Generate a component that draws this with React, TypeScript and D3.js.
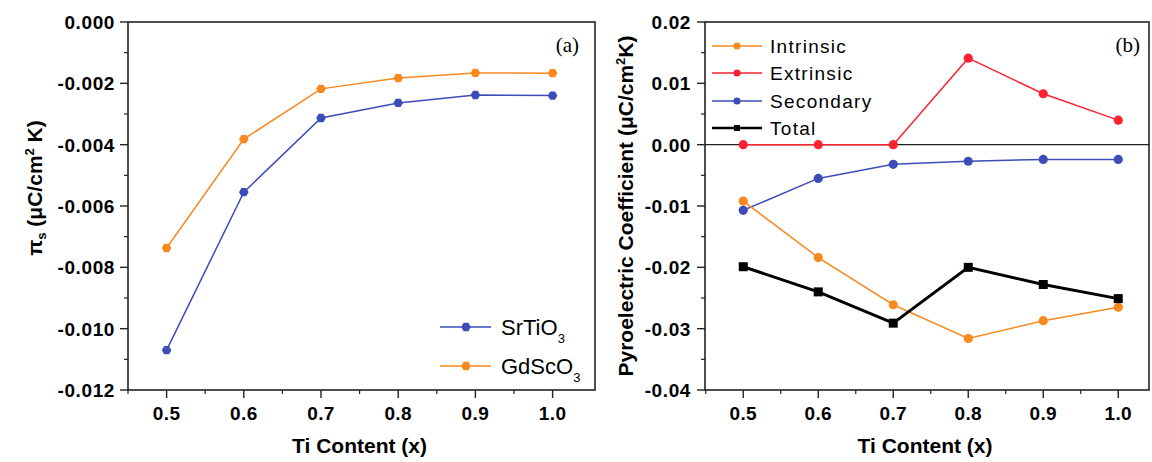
import React from "react";
import * as d3 from "d3";

const xValues = [0.5, 0.6, 0.7, 0.8, 0.9, 1.0];
const srTiO3 = [-0.0107, -0.00555, -0.00313, -0.00264, -0.00238, -0.0024];
const gdScO3 = [-0.00737, -0.00382, -0.00218, -0.00183, -0.00166, -0.00167];

const intrinsic = [-0.0092, -0.0184, -0.0261, -0.0316, -0.0287, -0.0265];
const extrinsic = [0, 0, 0, 0.0141, 0.0083, 0.004];
const secondary = [-0.0107, -0.0055, -0.0032, -0.0027, -0.0024, -0.0024];
const total = [-0.0199, -0.024, -0.0291, -0.02, -0.0228, -0.0251];

const leftYTicks = [0, -0.002, -0.004, -0.006, -0.008, -0.01, -0.012];
const rightYTicks = [0.02, 0.01, 0, -0.01, -0.02, -0.03, -0.04];
const xTicks = [0.5, 0.6, 0.7, 0.8, 0.9, 1.0];

const ORANGE = "#f7891f";
const BLUE = "#3c4db8";
const RED = "#fb2231";
const BLACK = "#000";

const TOP = 22;
const BOTTOM = 390;
const sans = "'Liberation Sans', Arial, sans-serif";
const serif = "'Liberation Serif', 'Times New Roman', serif";

function hexPath(cx: number, cy: number, r: number) {
  const pts: string[] = [];
  for (let i = 0; i < 6; i++) {
    const a = (Math.PI / 3) * i;
    pts.push(`${cx + r * Math.cos(a)},${cy + r * Math.sin(a)}`);
  }
  return "M" + pts.join("L") + "Z";
}

function Marker({ type, x, y, color }: { type: string; x: number; y: number; color: string }) {
  if (type === "hex") return <path d={hexPath(x, y, 4.8)} fill={color} />;
  if (type === "square") return <rect x={x - 4.5} y={y - 4.5} width={9} height={9} fill={color} />;
  return <circle cx={x} cy={y} r={4.6} fill={color} />;
}

function Axes({
  x0, x1, xs, ys, yTicks, yMinor, xMinor, yFmt, labelX,
}: any) {
  return (
    <g>
      <rect x={x0} y={TOP} width={x1 - x0} height={BOTTOM - TOP} fill="none" stroke="#222" strokeWidth={1.6} />
      {yTicks.map((t: number) => (
        <g key={"y" + t}>
          <line x1={x0 - 8} x2={x0} y1={ys(t)} y2={ys(t)} stroke="#222" strokeWidth={1.4} />
          <text x={labelX} y={ys(t)} dy="0.36em" textAnchor="end" fontFamily={sans} fontWeight="bold" fontSize={19} letterSpacing={0.6}>
            {yFmt(t)}
          </text>
        </g>
      ))}
      {yMinor.map((t: number) => (
        <line key={"ym" + t} x1={x0 - 4} x2={x0} y1={ys(t)} y2={ys(t)} stroke="#222" strokeWidth={1.2} />
      ))}
      {xTicks.map((t) => (
        <g key={"x" + t}>
          <line x1={xs(t)} x2={xs(t)} y1={BOTTOM} y2={BOTTOM + 8} stroke="#222" strokeWidth={1.4} />
          <text x={xs(t)} y={413} dy="0.36em" textAnchor="middle" fontFamily={sans} fontWeight="bold" fontSize={19} letterSpacing={0.4}>
            {t.toFixed(1)}
          </text>
        </g>
      ))}
      {xMinor.map((t: number) => (
        <line key={"xm" + t} x1={xs(t)} x2={xs(t)} y1={BOTTOM} y2={BOTTOM + 4} stroke="#222" strokeWidth={1.2} />
      ))}
      <text x={(x0 + x1) / 2 - 2} y={445} dy="0.36em" textAnchor="middle" fontFamily={sans} fontWeight="bold" fontSize={21}>
        Ti Content (x)
      </text>
    </g>
  );
}

function Series({ xs, ys, vals, color, marker, width }: any) {
  const line = d3.line<number>().x((_, i) => xs(xValues[i])).y((d) => ys(d));
  return (
    <g>
      <path d={line(vals) || ""} fill="none" stroke={color} strokeWidth={width} />
      {vals.map((v: number, i: number) => (
        <Marker key={i} type={marker} x={xs(xValues[i])} y={ys(v)} color={color} />
      ))}
    </g>
  );
}

const hy = (s: string) => s.replace("\u2212", "-");

export default function App() {
  // left panel
  const lx0 = 128, lx1 = 595;
  const lxs = d3.scaleLinear().domain([0.45, 0.45 + (lx1 - lx0) / 772]).range([lx0, lx1]);
  const lys = d3.scaleLinear().domain([0, -0.012]).range([TOP, BOTTOM]);
  // right panel
  const rx0 = 705, rx1 = 1149;
  const rxs = d3.scaleLinear().domain([0.449, 0.449 + (rx1 - rx0) / 750]).range([rx0, rx1]);
  const rys = d3.scaleLinear().domain([0.02, -0.04]).range([TOP, BOTTOM]);

  const lyMinor = d3.range(6).map((i) => -0.001 - 0.002 * i);
  const ryMinor = d3.range(6).map((i) => 0.015 - 0.01 * i);
  const xMinor = [0.45, 0.55, 0.65, 0.75, 0.85, 0.95];

  const leftLegend = [
    { name: "SrTiO", sub: "3", color: BLUE, y: 327 },
    { name: "GdScO", sub: "3", color: ORANGE, y: 366 },
  ];
  const rightLegend = [
    { name: "Intrinsic", color: ORANGE, y: 46, marker: "circle" },
    { name: "Extrinsic", color: RED, y: 73, marker: "circle" },
    { name: "Secondary", color: BLUE, y: 101, marker: "circle" },
    { name: "Total", color: BLACK, y: 128, marker: "square" },
  ];

  return (
    <svg width={1152} height={462} style={{ display: "block", position: "absolute", left: 0, top: 0, background: "#fff" }}>
      <rect width={1152} height={462} fill="#fff" />
      {/* Left panel */}
      <Axes x0={lx0} x1={lx1} xs={lxs} ys={lys} yTicks={leftYTicks} yMinor={lyMinor} xMinor={xMinor}
        yFmt={(t: number) => (t === 0 ? "0.000" : hy(d3.format(".3f")(t)))} labelX={115} />
      <Series xs={lxs} ys={lys} vals={gdScO3} color={ORANGE} marker="hex" width={1.5} />
      <Series xs={lxs} ys={lys} vals={srTiO3} color={BLUE} marker="hex" width={1.5} />
      <text x={579} y={44} dy="0.36em" textAnchor="end" fontFamily={serif} fontSize={21}>(a)</text>
      {leftLegend.map((l) => (
        <g key={l.name}>
          <line x1={440} x2={491} y1={l.y} y2={l.y} stroke={l.color} strokeWidth={1.5} />
          <Marker type="hex" x={466} y={l.y} color={l.color} />
          <text x={501} y={l.y} dy="0.36em" fontFamily={sans} fontSize={22}>
            {l.name}
            <tspan fontSize={13} dy={8}>{l.sub}</tspan>
          </text>
        </g>
      ))}
      <text transform={`translate(34,${(TOP + BOTTOM) / 2 - 18}) rotate(-90)`} textAnchor="middle" dy="0.36em"
        fontFamily={sans} fontWeight="bold" fontSize={21}>
        π<tspan fontSize={13} dy={4}>s</tspan>
        <tspan dy={-4}> (μC/cm</tspan>
        <tspan fontSize={13} dy={-8}>2</tspan>
        <tspan dy={8}> K)</tspan>
      </text>

      {/* Right panel */}
      <Axes x0={rx0} x1={rx1} xs={rxs} ys={rys} yTicks={rightYTicks} yMinor={ryMinor} xMinor={xMinor}
        yFmt={(t: number) => (t === 0 ? "0.00" : hy(d3.format(".2f")(t)))} labelX={691} />
      <line x1={rx0} x2={rx1} y1={rys(0)} y2={rys(0)} stroke="#222" strokeWidth={1.4} />
      <Series xs={rxs} ys={rys} vals={extrinsic} color={RED} marker="circle" width={1.5} />
      <Series xs={rxs} ys={rys} vals={secondary} color={BLUE} marker="circle" width={1.5} />
      <Series xs={rxs} ys={rys} vals={intrinsic} color={ORANGE} marker="circle" width={1.5} />
      <Series xs={rxs} ys={rys} vals={total} color={BLACK} marker="square" width={3} />
      <text x={1140} y={44} dy="0.36em" textAnchor="end" fontFamily={serif} fontSize={21}>(b)</text>
      {rightLegend.map((l) => (
        <g key={l.name}>
          <line x1={712} x2={762} y1={l.y} y2={l.y} stroke={l.color} strokeWidth={l.marker === "square" ? 2.5 : 1.5} />
          {l.marker === "square" ? (
            <rect x={734} y={l.y - 3} width={6} height={6} fill={l.color} />
          ) : (
            <circle cx={737} cy={l.y} r={3.6} fill={l.color} />
          )}
          <text x={770} y={l.y} dy="0.36em" fontFamily={sans} fontSize={19} letterSpacing={1.3}>{l.name}</text>
        </g>
      ))}
      <text transform={`translate(625,${(TOP + BOTTOM) / 2}) rotate(-90)`} textAnchor="middle" dy="0.36em"
        fontFamily={sans} fontWeight="bold" fontSize={21}>
        Pyroelectric Coefficient (μC/cm<tspan fontSize={13} dy={-8}>2</tspan><tspan dy={8}>K)</tspan>
      </text>
    </svg>
  );
}
